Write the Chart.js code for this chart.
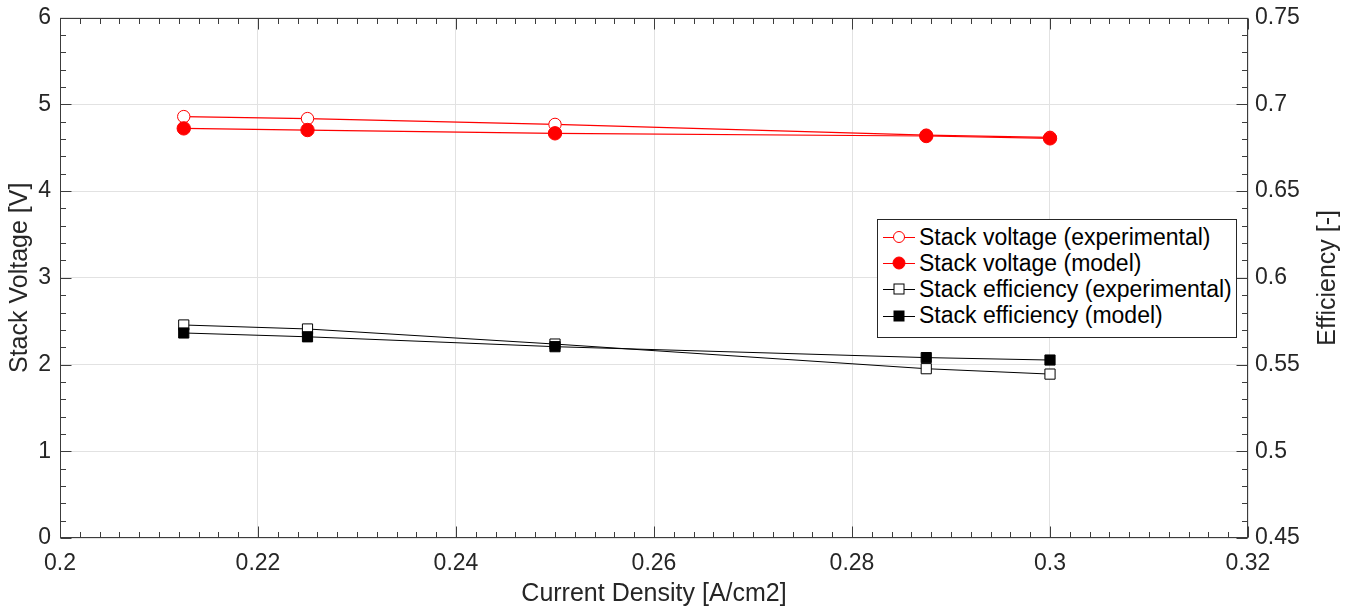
<!DOCTYPE html>
<html>
<head>
<meta charset="utf-8">
<script src="https://cdn.jsdelivr.net/npm/chart.js@4"></script>
<style>
  html, body { margin: 0; padding: 0; background: #fff; }
  #wrap { position: relative; width: 1348px; height: 610px; }
  #legend {
    position: absolute; left: 877px; top: 219px; width: 360px; height: 119px;
    box-sizing: border-box; border: 1px solid #262626; background: #fff;
    font-family: "Liberation Sans", Arial, sans-serif; font-size: 23px; color: #000;
    padding-top: 4px;
  }
  .row { display: flex; align-items: center; height: 26.2px; white-space: nowrap; }
  .row svg { margin-left: 5px; margin-right: 4px; flex-shrink: 0; }
</style>
</head>
<body>
<div id="wrap">
  <canvas id="chart" width="1348" height="610"></canvas>
  <div id="legend"></div>
</div>
<script>
/* ── Data ── */
const currentDensity = [0.2125, 0.225, 0.25, 0.2875, 0.3];
const voltageExp = [4.859, 4.836, 4.769, 4.645, 4.62];
const voltageModel = [4.723, 4.704, 4.666, 4.635, 4.608];
const effExp = [0.5728, 0.5705, 0.5618, 0.5476, 0.5445];
const effModel = [0.5682, 0.566, 0.5603, 0.554, 0.5526];

const seriesLabels = [
  "Stack voltage (experimental)",
  "Stack voltage (model)",
  "Stack efficiency (experimental)",
  "Stack efficiency (model)",
];
const xTitle = "Current Density [A/cm2]";
const yTitle = "Stack Voltage [V]";
const y1Title = "Efficiency [-]";

/* ── Style ── */
const RED = "#ff0000";
const BLACK = "#000000";
const TEXT = "#262626";
const AXIS = "#3c3c3c";
const GRID = "#e2e2e2";
const FONT = "'Liberation Sans', Arial, sans-serif";

const pts = (ys) => currentDensity.map((x, i) => ({ x, y: ys[i] }));
const fmt = (v) => String(+v.toFixed(3));

/* ── Inward ticks (major + minor), axis box and vertical titles ── */
const boxTicks = {
  id: "boxTicks",
  afterDraw(chart) {
    const { ctx, chartArea: a, scales } = chart;
    ctx.save();
    ctx.strokeStyle = AXIS;
    ctx.lineWidth = 1;
    const L = Math.round(a.left) + 0.5, R = Math.round(a.right) - 0.5;
    const T = Math.round(a.top) + 0.5, B = Math.round(a.bottom) - 0.5;
    ctx.beginPath();

    const marks = (scale, min, max, n, every, fn) => {
      for (let i = 0; i <= n; i++) {
        const v = min + ((max - min) * i) / n;
        const len = i % every === 0 ? 11 : 5.5;
        fn(Math.round(scale.getPixelForValue(v)) + 0.5, len);
      }
    };
    marks(scales.x, 0.2, 0.32, 60, 10, (p, len) => {
      ctx.moveTo(p, B); ctx.lineTo(p, B - len);
      ctx.moveTo(p, T); ctx.lineTo(p, T + len);
    });
    marks(scales.y, 0, 6, 30, 5, (p, len) => {
      ctx.moveTo(L, p); ctx.lineTo(L + len, p);
    });
    marks(scales.y1, 0.45, 0.75, 30, 5, (p, len) => {
      ctx.moveTo(R, p); ctx.lineTo(R - len, p);
    });
    ctx.stroke();
    ctx.strokeRect(L, T, R - L, B - T);

    // both y titles read bottom-to-top
    const midY = (a.top + a.bottom) / 2;
    ctx.fillStyle = TEXT;
    ctx.font = `25px ${FONT}`;
    ctx.textAlign = "center";
    ctx.textBaseline = "middle";
    [[20, yTitle], [1328, y1Title]].forEach(([x, t]) => {
      ctx.save();
      ctx.translate(x, midY);
      ctx.rotate(-Math.PI / 2);
      ctx.fillText(t, 0, 0);
      ctx.restore();
    });
    ctx.restore();
  },
};

const tickFont = { family: FONT, size: 23 };
const yTickFont = { family: FONT, size: 23, lineHeight: 0.75 };
const titleFont = { family: FONT, size: 25 };

new Chart(document.getElementById("chart"), {
  type: "line",
  data: {
    datasets: [
      {
        label: seriesLabels[0], data: pts(voltageExp), yAxisID: "y", order: 2,
        borderColor: RED, borderWidth: 1.2, pointRadius: 6.2, pointBorderWidth: 1,
        pointBackgroundColor: "#fff", pointBorderColor: RED,
      },
      {
        label: seriesLabels[1], data: pts(voltageModel), yAxisID: "y", order: 1,
        borderColor: RED, borderWidth: 1.2, pointRadius: 6.7, pointBorderWidth: 1,
        pointBackgroundColor: RED, pointBorderColor: RED,
      },
      {
        label: seriesLabels[2], data: pts(effExp), yAxisID: "y1", order: 2,
        borderColor: BLACK, borderWidth: 1, pointStyle: "rect", pointRadius: 7.2,
        pointBorderWidth: 1, pointBackgroundColor: "#fff", pointBorderColor: BLACK,
      },
      {
        label: seriesLabels[3], data: pts(effModel), yAxisID: "y1", order: 1,
        borderColor: BLACK, borderWidth: 1, pointStyle: "rect", pointRadius: 7.2,
        pointBorderWidth: 1, pointBackgroundColor: BLACK, pointBorderColor: BLACK,
      },
    ],
  },
  options: {
    responsive: false,
    animation: false,
    devicePixelRatio: 1,
    layout: { padding: { top: 17.6, left: 0, right: 0, bottom: 0 } },
    plugins: { legend: { display: false }, tooltip: { enabled: false } },
    scales: {
      x: {
        type: "linear", min: 0.2, max: 0.32,
        afterFit: (s) => { s.height = 72; },
        border: { display: false },
        grid: { color: GRID, drawTicks: false },
        ticks: { stepSize: 0.02, padding: 12, color: TEXT, font: tickFont, callback: fmt, maxRotation: 0 },
        title: { display: true, text: xTitle, color: TEXT, font: titleFont, padding: { top: 0, bottom: 1 } },
      },
      y: {
        position: "left", min: 0, max: 6,
        afterFit: (s) => { s.width = 60; },
        border: { display: false },
        grid: { color: GRID, drawTicks: false },
        ticks: { stepSize: 1, padding: 9, color: TEXT, font: yTickFont, callback: fmt },
      },
      y1: {
        position: "right", min: 0.45, max: 0.75,
        afterFit: (s) => { s.width = 100; },
        border: { display: false },
        grid: { drawOnChartArea: false, drawTicks: false },
        ticks: { stepSize: 0.05, padding: 7, color: TEXT, font: yTickFont, callback: fmt },
      },
    },
  },
  plugins: [boxTicks],
});

/* ── Legend box ── */
const markers = [
  `<circle cx="16" cy="10" r="5.5" fill="#fff" stroke="${RED}" stroke-width="1"/>`,
  `<circle cx="16" cy="10" r="6" fill="${RED}" stroke="${RED}" stroke-width="1"/>`,
  `<rect x="11" y="5" width="10" height="10" fill="#fff" stroke="${BLACK}" stroke-width="1"/>`,
  `<rect x="11" y="5" width="10" height="10" fill="${BLACK}" stroke="${BLACK}" stroke-width="1"/>`,
];
const lineColors = [RED, RED, BLACK, BLACK];
document.getElementById("legend").innerHTML = seriesLabels
  .map(
    (l, i) => `
      <div class="row">
        <svg width="32" height="20"><line x1="0" y1="10.5" x2="32" y2="10.5" stroke="${lineColors[i]}" stroke-width="1"/>${markers[i]}</svg>
        <span>${l}</span>
      </div>`,
  )
  .join("");
</script>
</body>
</html>
